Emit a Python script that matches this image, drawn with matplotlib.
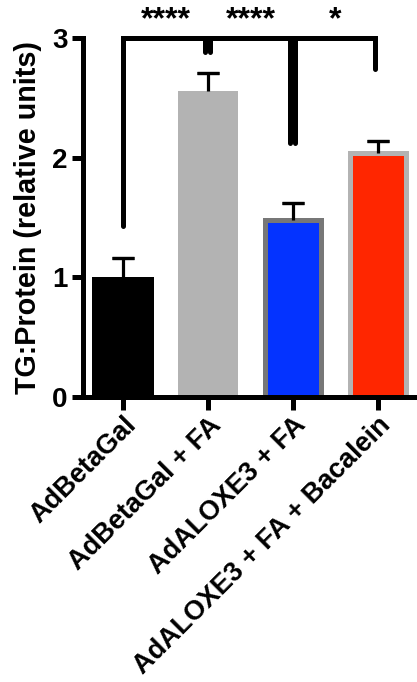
import matplotlib
matplotlib.use("Agg")
import matplotlib.pyplot as plt

categories = ["AdBetaGal", "AdBetaGal + FA", "AdALOXE3 + FA", "AdALOXE3 + FA + Bacalein"]
values = [1.00, 2.56, 1.48, 2.04]
errors = [0.16, 0.15, 0.14, 0.10]
ylabel = "TG:Protein (relative units)"
yticks = [0, 1, 2, 3]
# significance brackets: (x1, x2, y, left leg bottom, right leg bottom, label)
brackets = [(0, 1, 3.0, 1.43, 2.88, "****"),
            (1, 2, 3.0, 2.88, 2.12, "****"),
            (2, 3, 3.0, 2.12, 2.74, "*")]

face = ["#000000", "#b3b3b3", "#0433ff", "#ff2600"]
edge = ["#000000", "#b3b3b3", "#777777", "#b3b3b3"]
widths = [0.72, 0.71, 0.66, 0.66]
lws = [0, 0, 3.6, 3.6]

plt.rcParams['font.family'] = ['Liberation Sans', 'DejaVu Sans']
plt.rcParams['font.weight'] = 'bold'

fig = plt.figure(figsize=(4.17, 6.82), dpi=100)
ax = fig.add_axes([0.199, 0.418, 0.801, 0.5263])
x = list(range(len(categories)))
ax.bar(x, values, width=widths, color=face, edgecolor=edge, linewidth=lws, zorder=2)
tops = [v + e for v, e in zip(values, errors)]
ax.vlines(x, values, tops, color='black', lw=2.3, zorder=3)
ax.errorbar(x, tops, yerr=0, fmt='none', ecolor='black', elinewidth=0,
            capsize=8, capthick=2.3, zorder=3)

ax.set_xlim(-0.47, 3.46)
ax.set_ylim(0, 3)
ax.set_yticks(yticks)
ax.set_yticklabels([str(t) for t in yticks], fontsize=20, fontweight='bold')
ax.set_xticks(x)
ax.set_xticklabels(categories, rotation=45, ha='right', va='top',
                   rotation_mode='anchor', fontsize=19.5, fontweight='bold')
ax.set_ylabel(ylabel, fontsize=20.7, fontweight='bold', labelpad=7)
for s in ['top', 'right']:
    ax.spines[s].set_visible(False)
for s in ['left', 'bottom']:
    ax.spines[s].set_linewidth(3.6)
ax.tick_params(axis='both', width=3.6, length=8, pad=3)
ax.tick_params(axis='x', length=9, pad=2)

d = 0.03
for x1, x2, y, b1, b2, lab in brackets:
    xa = x1 + (d if x1 > 0 else 0)
    xb = x2 - d
    ax.plot([xa, xa, xb, xb], [b1, y, y, b2], color='black', lw=3.6,
            solid_capstyle='round', solid_joinstyle='miter', clip_on=False, zorder=4)
    ax.text((x1 + x2) / 2, y + 0.15, lab, ha='center', va='center',
            fontsize=23, fontweight='bold', clip_on=False)

fig.savefig("out.png", dpi=100)
